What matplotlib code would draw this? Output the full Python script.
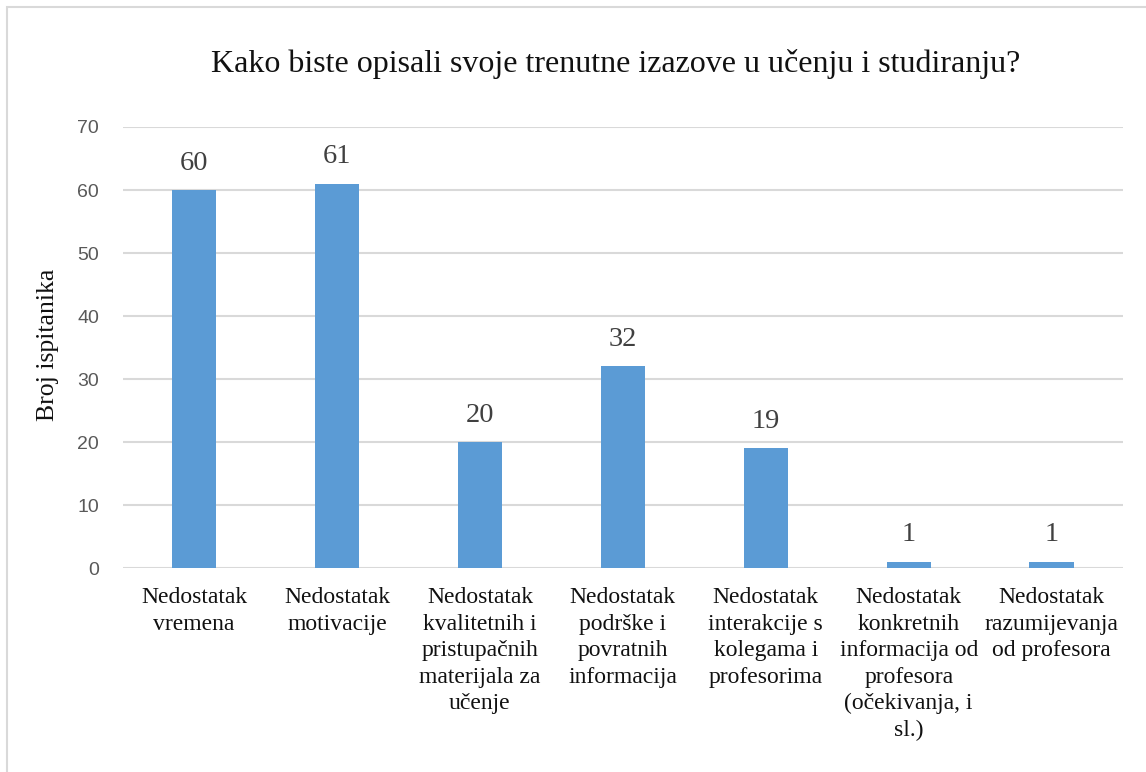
import numpy as np
import matplotlib.pyplot as plt
from matplotlib.patches import Rectangle

categories = [
    "Nedostatak\nvremena",
    "Nedostatak\nmotivacije",
    "Nedostatak\nkvalitetnih i\npristupačnih\nmaterijala za\nučenje",
    "Nedostatak\npodrške i\npovratnih\ninformacija",
    "Nedostatak\ninterakcije s\nkolegama i\nprofesorima",
    "Nedostatak\nkonkretnih\ninformacija od\nprofesora\n(očekivanja, i\nsl.)",
    "Nedostatak\nrazumijevanja\nod profesora",
]
values = [60, 61, 20, 32, 19, 1, 1]
yticks = [0, 10, 20, 30, 40, 50, 60, 70]

title = "Kako biste opisali svoje trenutne izazove u učenju i studiranju?"
ylabel = "Broj ispitanika"

serif = "Liberation Serif"
bar_color = "#5b9bd5"
grid_color = "#d9d9d9"


def main():
    fig = plt.figure(figsize=(11.46, 7.72), dpi=100)
    ax = fig.add_axes([0.107, 0.2642, 0.873, 0.5713])

    x = np.arange(len(values))
    bars = ax.bar(x, values, width=0.31, color=bar_color, zorder=3)

    for b, v in zip(bars, values):
        ax.text(b.get_x() + b.get_width() / 2, v + 2.3, str(v),
                ha="center", va="bottom", fontsize=20.5, family=serif,
                color="#404040")

    ax.set_xlim(-0.5, len(values) - 0.5)
    ax.set_ylim(0, 70)
    ax.set_yticks(yticks)
    ax.set_yticklabels([str(t) for t in yticks], family="Liberation Sans",
                       fontsize=14, color="#595959")
    ax.set_xticks(x)
    ax.set_xticklabels(categories, family=serif, fontsize=17,
                       linespacing=1.34, color="#111111", va="top")
    ax.tick_params(axis="both", length=0)
    ax.tick_params(axis="x", pad=14)
    ax.tick_params(axis="y", pad=17)

    ax.grid(axis="y", color=grid_color, linewidth=1.5, zorder=0)
    for s in ax.spines.values():
        s.set_visible(False)

    fig.text(0.537, 0.917, title, ha="center", va="center",
             fontsize=23, family=serif, color="#111111")
    fig.text(0.042, 0.553, ylabel, rotation=90, ha="center", va="center",
             fontsize=18.5, family=serif, color="#111111")

    # outer chart border (right and bottom edges fall outside the image)
    fig.patches.append(Rectangle((7 / 1146, -0.1), 1.2, 1 - 7 / 772 + 0.1,
                                 transform=fig.transFigure, fill=False,
                                 edgecolor="#d9d9d9", linewidth=1.5))

    fig.savefig("out.png", dpi=100)


if __name__ == "__main__":
    main()
